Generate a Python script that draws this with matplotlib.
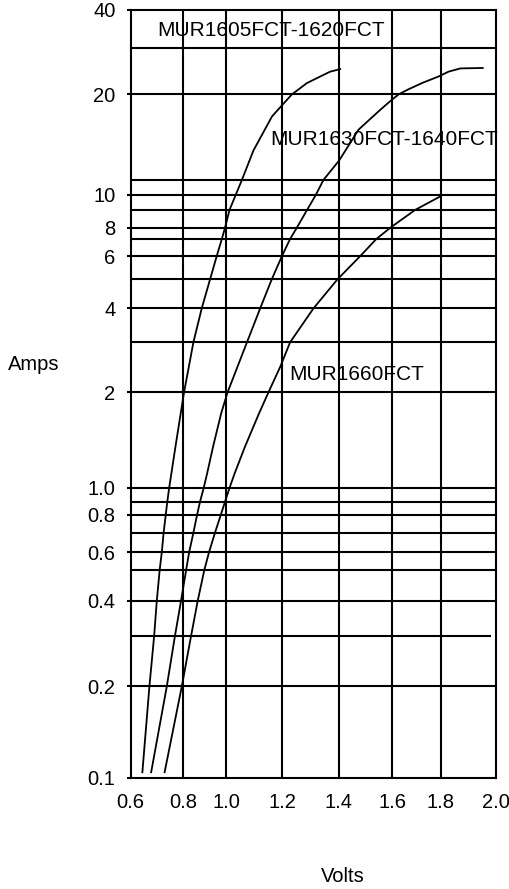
import matplotlib
matplotlib.use("Agg")
import matplotlib.pyplot as plt
import numpy as np

plt.rcParams['font.family'] = ['Liberation Sans', 'DejaVu Sans']

# ---- data ----
c1_v = [0.644, 0.671, 0.689, 0.699, 0.710, 0.718, 0.725, 0.733, 0.739, 0.746,
        0.770, 0.803, 0.847, 0.886, 0.925, 0.956, 0.980, 0.995, 1.012, 1.034,
        1.056, 1.097, 1.163, 1.233, 1.287, 1.334, 1.369, 1.408]
c1_a = [0.1035, 0.2, 0.3, 0.4, 0.5, 0.6, 0.7, 0.8, 0.9, 1.0,
        1.35, 2, 3, 4, 5, 6, 7, 8, 9, 10,
        11.1, 13.6, 17.2, 20, 22.1, 23.4, 24.4, 25.0]

c2_v = [0.677, 0.737, 0.768, 0.791, 0.813, 0.827, 0.847, 0.864, 0.878, 0.895,
        0.911, 0.939, 0.977, 1.005, 1.074, 1.121, 1.162, 1.198, 1.227, 1.251,
        1.287, 1.318, 1.345, 1.401, 1.474, 1.556, 1.600, 1.627, 1.662, 1.724,
        1.792, 1.829, 1.872, 1.956]
c2_a = [0.1035, 0.2, 0.3, 0.4, 0.5, 0.6, 0.7, 0.8, 0.9, 1.0,
        1.11, 1.35, 1.72, 2, 3, 4, 5, 6, 7, 8,
        9, 10, 11.1, 12.7, 15.7, 18.0, 19.3, 20, 20.8, 22.1,
        23.4, 24.4, 25.1, 25.2]

c3_v = [0.728, 0.794, 0.836, 0.867, 0.898, 0.920, 0.948, 0.975, 0.995, 1.012,
        1.030, 1.067, 1.117, 1.150, 1.192, 1.227, 1.310, 1.395, 1.480, 1.541,
        1.594, 1.695, 1.799]
c3_a = [0.1035, 0.2, 0.3, 0.4, 0.5, 0.6, 0.7, 0.8, 0.9, 1.0,
        1.11, 1.35, 1.72, 2, 2.46, 3, 4, 5, 6, 7,
        8, 9, 9.9]

curve_labels = ["MUR1605FCT-1620FCT", "MUR1630FCT-1640FCT", "MUR1660FCT"]

x_ticks = [0.6, 0.8, 1.0, 1.2, 1.4, 1.6, 1.8, 2.0]
x_tick_labels = ["0.6", "0.8", "1.0", "1.2", "1.4", "1.6", "1.8", "2.0"]
y_ticks = [0.1, 0.2, 0.4, 0.6, 0.8, 1.0, 2, 4, 6, 8, 10, 20, 40]
y_tick_labels = ["0.1", "0.2", "0.4", "0.6", "0.8", "1.0", "2", "4", "6", "8", "10", "20", "40"]
h_grid = [0.2, 0.3, 0.4, 0.5, 0.6, 0.7, 0.8, 0.9, 1.0,
          2, 3, 4, 5, 6, 7, 8, 9, 10, 11.1, 20, 30]
v_grid = [0.8, 1.0, 1.2, 1.4, 1.6, 1.8]

# ---- scale of the (hand-ruled) chart paper ----
# relative spacing of the printed grid, used as a piecewise scale
x_paper_vals = [0.6, 0.8, 1.0, 1.2, 1.4, 1.6, 1.8, 2.0]
x_paper_pos = [0.0, 52.6, 95.3, 151.6, 208.0, 261.0, 309.5, 364.6]
y_paper_vals = [0.1, 0.2, 0.3, 0.4, 0.5, 0.6, 0.7, 0.8, 0.9, 1, 2, 3, 4, 5, 6,
                7, 8, 9, 10, 11.1, 20, 30, 40]
y_paper_pos = [0.0, 91.2, 141.7, 176.7, 207.7, 225.4, 245.0, 262.7, 276.0,
               289.7, 385.2, 435.4, 469.4, 498.4, 521.5, 538.7, 550.0, 567.7,
               582.7, 597.7, 683.2, 729.7, 767.7]


def piecewise(xp, fp):
    xp = np.asarray(xp, float)
    fp = np.asarray(fp, float)

    def interp(x, a, b):
        x = np.asarray(x, float)
        y = np.interp(x, a, b)
        lo = x < a[0]
        hi = x > a[-1]
        s0 = (b[1] - b[0]) / (a[1] - a[0])
        s1 = (b[-1] - b[-2]) / (a[-1] - a[-2])
        y = np.where(lo, b[0] + (x - a[0]) * s0, y)
        y = np.where(hi, b[-1] + (x - a[-1]) * s1, y)
        return y

    return (lambda x: interp(x, xp, fp)), (lambda y: interp(y, fp, xp))


xf, xi = piecewise(x_paper_vals, x_paper_pos)
ylog = np.log10(y_paper_vals)
yf0, yi0 = piecewise(ylog, y_paper_pos)


def yf(a):
    a = np.asarray(a, float)
    with np.errstate(divide='ignore', invalid='ignore'):
        return yf0(np.log10(np.clip(a, 1e-6, None)))


def yi(p):
    return 10 ** yi0(p)


# ---- figure ----
fig = plt.figure(figsize=(5.09, 8.89), dpi=100)
ax = fig.add_axes([0.2568, 0.1252, 0.7171, 0.8636])
ax.set_xscale('function', functions=(xf, xi))
ax.set_yscale('function', functions=(yf, yi))
ax.set_xlim(0.6, 2.0)
ax.set_ylim(0.1, 40)

for v in v_grid:
    ax.axvline(v, color='black', lw=1.5, zorder=1)
for h in h_grid:
    xmax = 0.985 if h == 0.3 else 1.0
    ax.axhline(h, xmax=xmax, color='black', lw=1.5, zorder=1)

for v, a in [(c1_v, c1_a), (c2_v, c2_a), (c3_v, c3_a)]:
    ax.plot(v, a, color='black', lw=1.3, zorder=3,
            solid_joinstyle='round', solid_capstyle='butt')

for s in ax.spines.values():
    s.set_linewidth(1.5)

ax.set_xticks(x_ticks)
ax.set_xticklabels(x_tick_labels)
ax.set_yticks(y_ticks)
ax.set_yticklabels(y_tick_labels)
ax.xaxis.set_minor_locator(matplotlib.ticker.NullLocator())
ax.yaxis.set_minor_locator(matplotlib.ticker.NullLocator())
ax.tick_params(axis='x', length=0, pad=11, labelsize=14.5)
ax.tick_params(axis='y', length=3, width=1.5, pad=8, labelsize=14.5)

ax.text(0.072, 0.973, curve_labels[0], transform=ax.transAxes,
        fontsize=15, va='center', ha='left')
ax.text(0.3836, 0.8307, curve_labels[1], transform=ax.transAxes,
        fontsize=15, va='center', ha='left')
ax.text(0.4337, 0.5246, curve_labels[2], transform=ax.transAxes,
        fontsize=15, va='center', ha='left')

fig.text(34 / 509, 1 - 365 / 889, "Amps", fontsize=14.5, ha='center', va='center')
fig.text(342.7 / 509, 1 - 876.7 / 889, "Volts", fontsize=14.5, ha='center', va='center')

fig.savefig("out.png", dpi=100)
